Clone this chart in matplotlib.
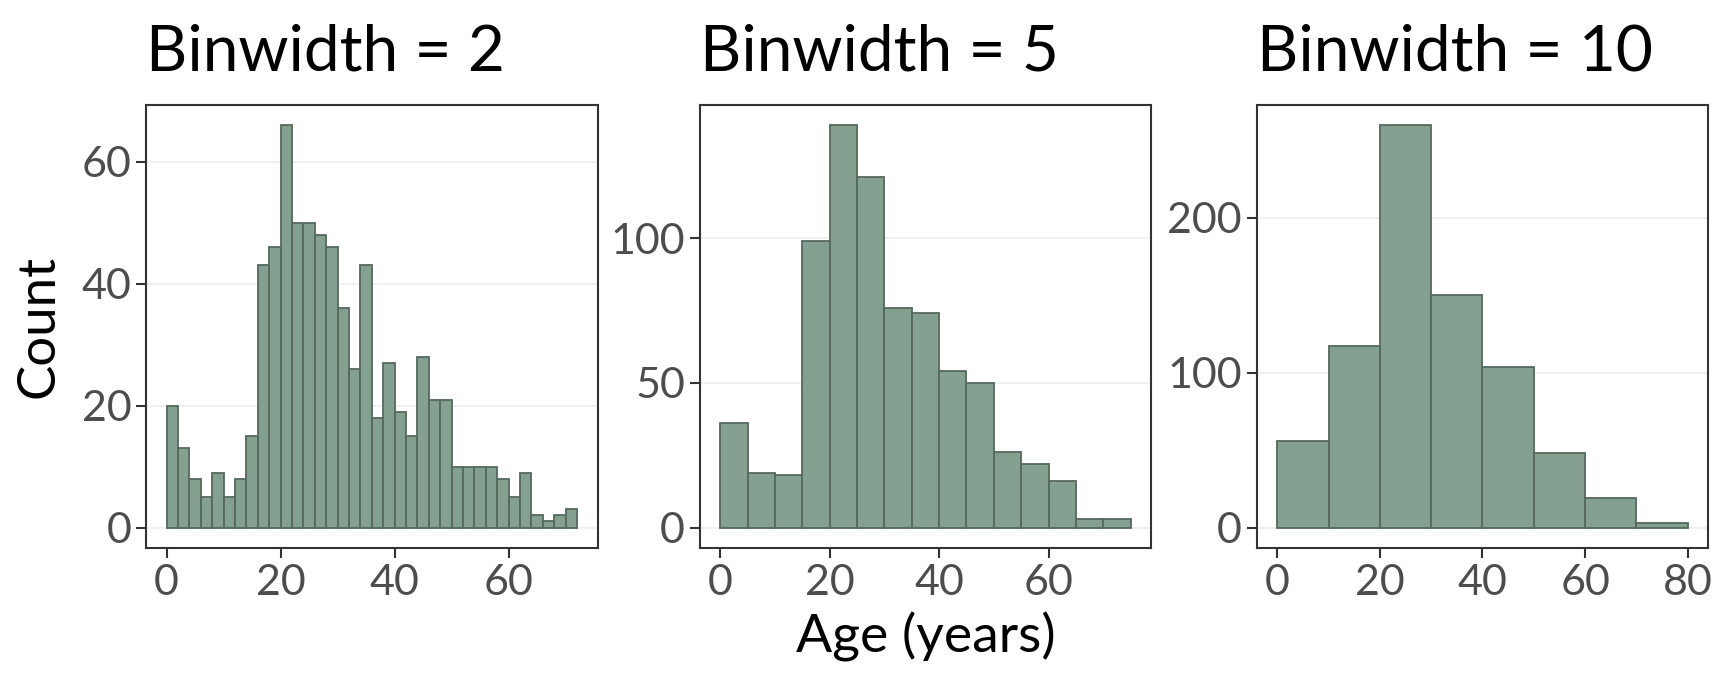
import numpy as np
import matplotlib
matplotlib.use("Agg")
import matplotlib.pyplot as plt

plt.rcParams['font.family'] = ['Lato', 'DejaVu Sans']

# histogram counts (age of passengers, three bin widths)
binwidths = [2, 5, 10]
counts_bw2 = [20, 13, 8, 5, 9, 5, 8, 15, 43, 46, 66, 50, 50, 48, 46, 36, 26, 43,
              18, 27, 19, 15, 28, 21, 21, 10, 10, 10, 10, 8, 5, 9, 2, 1, 2, 3]
counts_bw5 = [36, 19, 18, 99, 139, 121, 76, 74, 54, 50, 26, 22, 16, 3, 3]
counts_bw10 = [56, 117, 260, 150, 104, 48, 19, 3]
all_counts = [counts_bw2, counts_bw5, counts_bw10]

yticks = [[0, 20, 40, 60], [0, 50, 100], [0, 100, 200]]
xticks = [[0, 20, 40, 60], [0, 20, 40, 60], [0, 20, 40, 60, 80]]
titles = ["Binwidth = 2", "Binwidth = 5", "Binwidth = 10"]

fill_col = "#84a090"
edge_col = "#55695d"
grid_col = "#f0f0f0"
tick_col = "#4d4d4d"
spine_col = "#333333"

W, H = 1728, 691
fig = plt.figure(figsize=(W / 100, H / 100), dpi=100)

lefts = [146, 699.7, 1256.7]
pw = 451.5
top, bottom = 105, 547.7

axes = []
for i in range(3):
    ax = fig.add_axes([lefts[i] / W, 1 - bottom / H, pw / W, (bottom - top) / H])
    axes.append(ax)
    bw = binwidths[i]
    c = all_counts[i]
    edges = np.arange(len(c)) * bw
    ax.bar(edges, c, width=bw, align='edge', color=fill_col, edgecolor=edge_col,
           linewidth=1.3, zorder=3)

    xmax = len(c) * bw
    ax.set_xlim(-0.05 * xmax, xmax * 1.05)
    ymax = max(c)
    ax.set_ylim(-0.05 * ymax, ymax * 1.05)

    ax.set_yticks(yticks[i])
    ax.set_xticks(xticks[i])
    ax.grid(axis='y', color=grid_col, linewidth=1.6, zorder=0)
    ax.set_axisbelow(True)

    for s in ax.spines.values():
        s.set_color(spine_col)
        s.set_linewidth(1.5)
    ax.tick_params(axis='both', length=7.5, width=1.5, color=spine_col,
                   labelcolor=tick_col, labelsize=31)
    ax.tick_params(axis='x', pad=4)
    ax.tick_params(axis='y', pad=3)
    ax.set_title(titles[i], loc='left', fontsize=46, pad=25, color='black')

axes[0].set_ylabel("Count", fontsize=38, labelpad=14)
axes[1].set_xlabel("Age (years)", fontsize=38.5, labelpad=7)

fig.savefig("out.png", dpi=100, facecolor='white')
